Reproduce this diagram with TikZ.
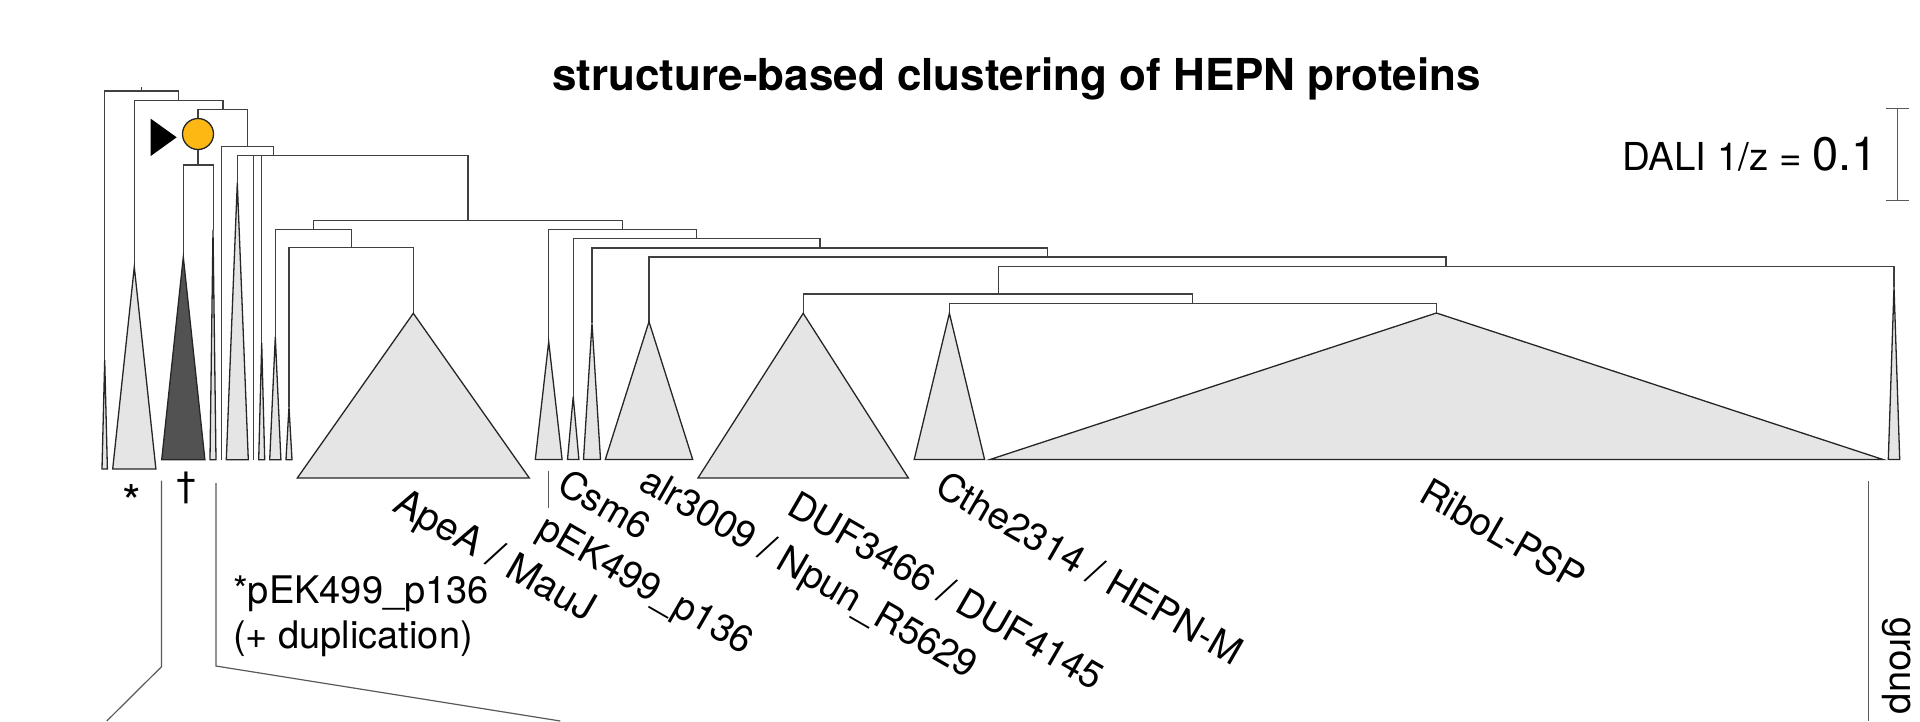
\documentclass[tikz,border=0pt]{standalone}
\usepackage{fontspec}
\setmainfont{TeX Gyre Heros}
\definecolor{dotorange}{HTML}{FDB813}
\tikzset{
  x=1pt,y=-1pt,
  branch/.style={draw=black!75,line width=1.3pt},
  clade/.style={draw=black!85,line width=1.3pt,fill=black!10,line join=miter},
  darkclade/.style={draw=black!85,line width=1.3pt,fill=black!68},
  lead/.style={draw=black!65,line width=1.2pt},
  cladelabel/.style={anchor=base west,rotate=-30,font=\fontsize{38}{38}\selectfont,inner sep=0pt,text=black},
  plainlabel/.style={anchor=base west,font=\fontsize{38}{38}\selectfont,inner sep=0pt,text=black},
}
\newcommand{\clade}[6][clade]{\node[inner sep=0pt] (#2) at (#3,#5) {};\draw[#1] (#3,#5) -- (#4,#6) -- (2*#3-#4,#6) -- cycle;}
\begin{document}
\begin{tikzpicture}
\useasboundingbox (0,0) rectangle (1920,721);
% brackets
\coordinate (r1) at (141.7,91);
\draw[branch] (141.7,87) -- (r1);
\draw[branch] (104.7,469) -- (104.7,91) -- (178.7,91) -- (178.7,100.3);
\draw[branch] (134.3,267) -- (134.3,100.3) -- (223,100.3) -- (223,109.3);
\draw[branch] (198,165) -- (198,109.3) -- (247.3,109.3) -- (247.3,146.3);
\draw[branch] (183.3,257) -- (183.3,165) -- (213.3,165) -- (213.3,230);
\draw[branch] (221.3,459.7) -- (221.3,146.3) -- (273.3,146.3) -- (273.3,155.7);
\draw[branch] (237.3,183) -- (237.3,155.7) -- (468,155.7) -- (468,220.3);
\draw[branch] (253.7,459.7) -- (253.7,155.7);
\draw[branch] (261.7,343) -- (261.7,155.7);
\draw[branch] (313.3,229.3) -- (313.3,220.3) -- (622.6,220.3) -- (622.6,229.3);
\draw[branch] (275.3,337) -- (275.3,229.3) -- (351.3,229.3) -- (351.3,247.7);
\draw[branch] (289,407) -- (289,247.7) -- (413.3,247.7) -- (413.3,313.3);
\draw[branch] (548.7,341.7) -- (548.7,229.3) -- (696.8,229.3) -- (696.8,238.7);
\draw[branch] (573.2,396.7) -- (573.2,238.7) -- (820,238.7) -- (820,248);
\draw[branch] (592,323.3) -- (592,248) -- (1047.7,248) -- (1047.7,257);
\draw[branch] (649,321.7) -- (649,257) -- (1446,257) -- (1446,266.5);
\draw[branch] (998.4,294) -- (998.4,266.5) -- (1894,266.5) -- (1894,287);
\draw[branch] (803.2,313.3) -- (803.2,294) -- (1192.6,294) -- (1192.6,303.3);
\draw[branch] (949.4,313.3) -- (949.4,303.3) -- (1436.4,303.3) -- (1436.4,313);
% clades
\clade{t1}{104.7}{102}{360}{469}
\clade{t2}{134.3}{112.7}{267}{469}
\clade[darkclade]{t3}{183.3}{161.7}{257}{459.7}
\clade{t4}{213}{210}{230}{459.7}
\clade{t5}{237.3}{226.3}{183}{459.7}
\clade{t6}{261.7}{258.7}{343}{459.7}
\clade{t7}{275.3}{269.7}{337}{459.7}
\clade{t8}{289}{286}{407}{459.7}
\clade{t9}{413.3}{297.3}{313.3}{478}
\clade{t10}{548.7}{535.3}{341.7}{459.5}
\clade{t11}{573.2}{567.5}{396.7}{459.5}
\clade{t12}{592}{583.5}{323.3}{459.5}
\clade{t13}{649}{605.3}{321.7}{459.5}
\clade{t14}{803.2}{698}{313.3}{478}
\clade{t15}{949.4}{914.2}{313.3}{459.5}
\draw[clade] (1436.4,313) -- (990,459.5) -- (1883,459.5) -- cycle;
\clade{t17}{1894}{1888.3}{287}{459.5}
% markers
\node[draw=black!85,line width=1.3pt,fill=dotorange,circle,minimum size=31pt,inner sep=0pt] (dot) at (198,134) {};
\fill[black] (150.7,118.7) -- (176.7,137.3) -- (150.7,156) -- cycle;
% scale
\coordinate (s1) at (1897.7,108.5);
\coordinate (s2) at (1897.7,200.7);
\draw[lead] (s1) -- (s2);
\draw[lead] (1886,108.5) -- (1909.3,108.5);
\draw[lead] (1886,200.7) -- (1909.3,200.7);
% leaders
\draw[lead] (161.5,480.7) -- (161.5,666.7) -- (106.8,721);
\draw[lead] (215.9,483) -- (215.9,666) -- (560.3,721);
\draw[lead] (548.8,470.7) -- (548.8,508.3);
\draw[lead] (1868.3,481) -- (1868.3,721);
% text
\node[anchor=base,font=\bfseries\fontsize{44}{44}\selectfont,inner sep=0pt] (title) at (1016.5,90) {structure-based clustering of HEPN proteins};
\node[anchor=base east,font=\fontsize{38.5}{38.5}\selectfont,inner sep=0pt,text=black] (dali) at (1878,170) {DALI 1/z = {\fontsize{47}{47}\selectfont 0.1}};
\node[font=\fontsize{48}{48}\selectfont,inner sep=0pt] (star) at (132,502) {*};
\node[font=\fontsize{36}{36}\selectfont,inner sep=0pt] (dagger) at (186.4,488) {†};
\node[plainlabel] (dup1) at (233,603) {*pEK499\_p136};
\node[plainlabel] (dup2) at (233,648) {(+ duplication)};
\node[cladelabel,font=\fontsize{39}{39}\selectfont] (l1) at (391,510) {ApeA\hspace{1pt} / \hspace{1pt}MauJ};
\node[cladelabel] (l2) at (535,535) {pEK499\_p136};
\node[cladelabel] (l3) at (555,491) {Csm6};
\node[cladelabel] (l4) at (637,488) {alr3009 / Npun\_R5629};
\node[cladelabel] (l5) at (785,513) {DUF3466 / DUF4145};
\node[cladelabel] (l6) at (933,493) {Cthe2314 / HEPN-M};
\node[cladelabel] (l7) at (1417,500) {RiboL-PSP};
\node[anchor=base west,rotate=-90,font=\fontsize{38}{38}\selectfont,inner sep=0pt,text=black] (grp) at (1890,617) {group};
\end{tikzpicture}
\end{document}
